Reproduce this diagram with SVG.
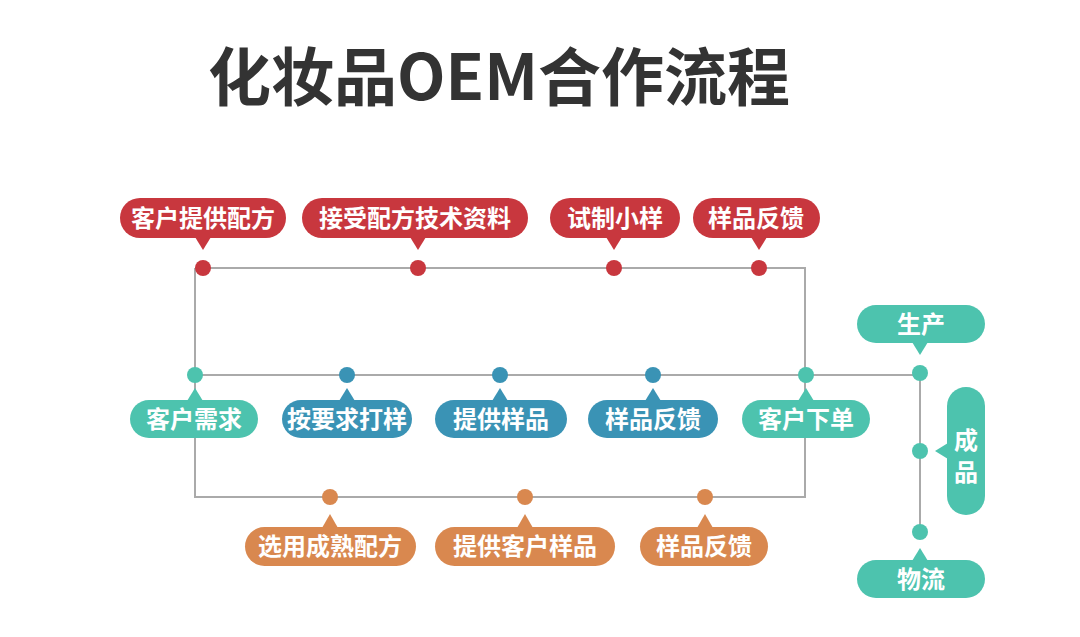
<svg xmlns="http://www.w3.org/2000/svg" width="1080" height="637" viewBox="0 0 1080 637">
<style>
.title{font-family:"Noto Sans CJK SC","Noto Sans",sans-serif;font-weight:700;font-size:63px;fill:#333333}
.lbl{font-family:"Noto Sans CJK SC","Noto Sans",sans-serif;font-weight:700;font-size:24px;fill:#ffffff;text-anchor:middle}
.line{stroke:#aaaaaa;stroke-width:2;fill:none}
.red{fill:#c8373e}
.teal{fill:#4dc3ae}
.blue{fill:#3a93b5}
.orange{fill:#d9884f}
</style>
<rect width="1080" height="637" fill="#ffffff"/>
<text class="title" x="499" y="100" text-anchor="middle">化妆品OEM合作流程</text>
<g id="connectors">
<polyline class="line" points="195,268 805,268 805,497 195,497 195,268"/>
<line class="line" x1="195" y1="375" x2="920" y2="375"/>
<line class="line" x1="920" y1="375" x2="920" y2="532"/>
</g>
<g id="n-top1"><circle class="red" cx="203" cy="268" r="8"/><rect class="red" x="120" y="198" width="166" height="40" rx="20"/><path class="red" d="M195,237 L203,250 L211,237 Z"/><text class="lbl" x="203" y="227">客户提供配方</text></g>
<g id="n-top2"><circle class="red" cx="418" cy="268" r="8"/><rect class="red" x="302" y="198" width="226" height="40" rx="20"/><path class="red" d="M410,237 L418,250 L426,237 Z"/><text class="lbl" x="415" y="227">接受配方技术资料</text></g>
<g id="n-top3"><circle class="red" cx="614" cy="268" r="8"/><rect class="red" x="550" y="198" width="130" height="40" rx="20"/><path class="red" d="M606,237 L614,250 L622,237 Z"/><text class="lbl" x="615" y="227">试制小样</text></g>
<g id="n-top4"><circle class="red" cx="759" cy="268" r="8"/><rect class="red" x="693" y="198" width="127" height="40" rx="20"/><path class="red" d="M751,237 L759,250 L767,237 Z"/><text class="lbl" x="756" y="227">样品反馈</text></g>
<g id="n-mid1"><circle class="teal" cx="195" cy="375" r="8"/><rect class="teal" x="130" y="400" width="128" height="38" rx="19"/><path class="teal" d="M187,401 L195,388 L203,401 Z"/><text class="lbl" x="194" y="428">客户需求</text></g>
<g id="n-mid2"><circle class="blue" cx="347" cy="375" r="8"/><rect class="blue" x="282" y="400" width="130" height="38" rx="19"/><path class="blue" d="M339,401 L347,388 L355,401 Z"/><text class="lbl" x="347" y="428">按要求打样</text></g>
<g id="n-mid3"><circle class="blue" cx="500" cy="375" r="8"/><rect class="blue" x="435" y="400" width="132" height="38" rx="19"/><path class="blue" d="M492,401 L500,388 L508,401 Z"/><text class="lbl" x="501" y="428">提供样品</text></g>
<g id="n-mid4"><circle class="blue" cx="653" cy="375" r="8"/><rect class="blue" x="588" y="400" width="130" height="38" rx="19"/><path class="blue" d="M645,401 L653,388 L661,401 Z"/><text class="lbl" x="653" y="428">样品反馈</text></g>
<g id="n-mid5"><circle class="teal" cx="806" cy="375" r="8"/><rect class="teal" x="742" y="400" width="128" height="38" rx="19"/><path class="teal" d="M798,401 L806,388 L814,401 Z"/><text class="lbl" x="806" y="428">客户下单</text></g>
<g id="n-bot1"><circle class="orange" cx="330" cy="497" r="8"/><rect class="orange" x="245" y="527" width="171" height="39" rx="19.5"/><path class="orange" d="M322,528 L330,514 L338,528 Z"/><text class="lbl" x="330" y="555">选用成熟配方</text></g>
<g id="n-bot2"><circle class="orange" cx="525" cy="497" r="8"/><rect class="orange" x="435" y="527" width="180" height="39" rx="19.5"/><path class="orange" d="M517,528 L525,514 L533,528 Z"/><text class="lbl" x="525" y="555">提供客户样品</text></g>
<g id="n-bot3"><circle class="orange" cx="705" cy="497" r="8"/><rect class="orange" x="640" y="527" width="128" height="39" rx="19.5"/><path class="orange" d="M697,528 L705,514 L713,528 Z"/><text class="lbl" x="704" y="555">样品反馈</text></g>
<g id="n-prod"><circle class="teal" cx="920" cy="373" r="8"/><rect class="teal" x="857" y="305" width="128" height="38" rx="19"/><path class="teal" d="M912,342 L920,355 L928,342 Z"/><text class="lbl" x="921" y="333">生产</text></g>
<g id="n-fin"><circle class="teal" cx="920" cy="451" r="8"/><rect class="teal" x="947" y="387" width="38" height="128" rx="19"/><path class="teal" d="M948,443 L935,451 L948,459 Z"/><text class="lbl" x="966" y="449">成</text><text class="lbl" x="966" y="481">品</text></g>
<g id="n-log"><circle class="teal" cx="920" cy="532" r="8"/><rect class="teal" x="857" y="560" width="128" height="38" rx="19"/><path class="teal" d="M912,561 L920,548 L928,561 Z"/><text class="lbl" x="921" y="588">物流</text></g>
</svg>
